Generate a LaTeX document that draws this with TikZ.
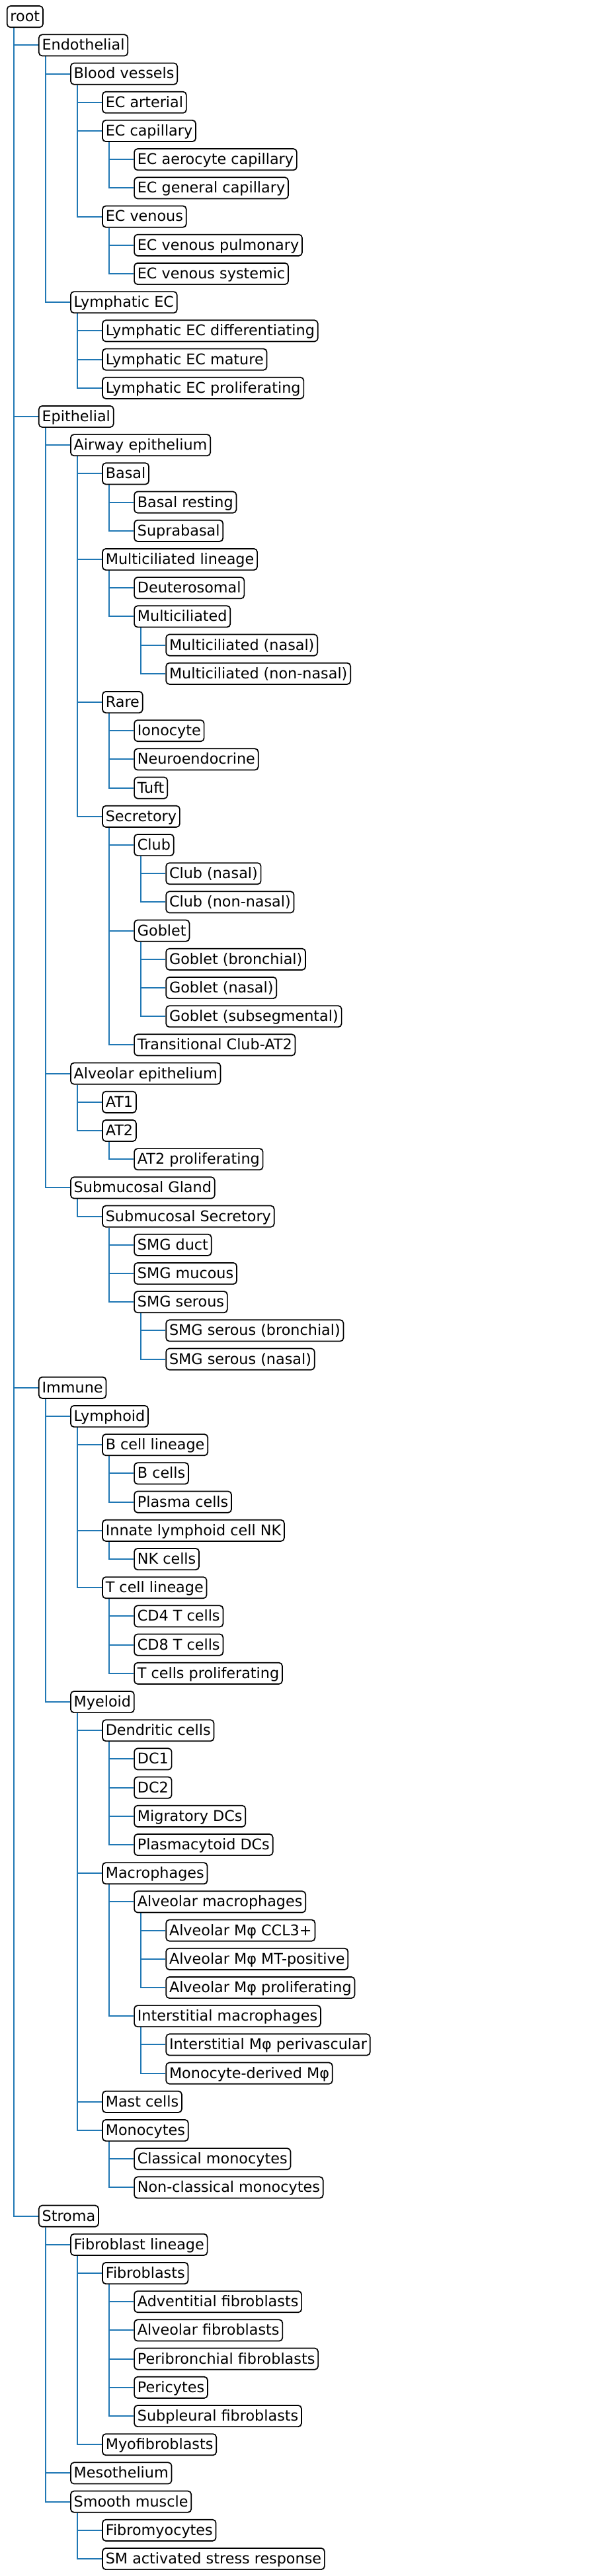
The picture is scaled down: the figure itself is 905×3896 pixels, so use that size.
\documentclass[tikz,border=0pt]{standalone}
\usepackage{fontspec}
\setmainfont{DejaVu Sans}
\usetikzlibrary{backgrounds}
\definecolor{tabblue}{HTML}{1F77B4}
\tikzset{
  cell/.style={draw=black, line width=1.7pt, rounded corners=5pt, fill=white, anchor=west,
    inner xsep=4.8pt, inner ysep=0pt, minimum height=32.2pt, text height=20.1pt, text depth=5.3pt,
    font=\fontsize{22.3}{26}\selectfont},
  conn/.style={draw=tabblue, line width=2pt}
}
\newcommand\tnode[4]{\node[cell] (#1) at ({9.85+48.1*#2},{-25.2-43.2*#3}) {#4};}
\newcommand\tlink[2]{\draw[conn] ([xshift=11.1pt]#1.south west) |- (#2.west);}
\begin{document}
\begin{tikzpicture}[x=1pt,y=1pt]
\useasboundingbox (0,0) rectangle (905,-3896);
\tnode{root}{0}{0}{root}
\tnode{endo}{1}{1}{Endothelial}
\tnode{blood}{2}{2}{Blood vessels}
\tnode{ecart}{3}{3}{EC arterial}
\tnode{eccap}{3}{4}{EC capillary}
\tnode{ecaero}{4}{5}{EC aerocyte capillary}
\tnode{ecgen}{4}{6}{EC general capillary}
\tnode{ecven}{3}{7}{EC venous}
\tnode{ecvpul}{4}{8}{EC venous pulmonary}
\tnode{ecvsys}{4}{9}{EC venous systemic}
\tnode{lymec}{2}{10}{Lymphatic EC}
\tnode{lymdiff}{3}{11}{Lymphatic EC differentiating}
\tnode{lymmat}{3}{12}{Lymphatic EC mature}
\tnode{lymprol}{3}{13}{Lymphatic EC proliferating}
\tnode{epi}{1}{14}{Epithelial}
\tnode{airway}{2}{15}{Airway epithelium}
\tnode{basal}{3}{16}{Basal}
\tnode{basalrest}{4}{17}{Basal resting}
\tnode{suprabasal}{4}{18}{Suprabasal}
\tnode{mcl}{3}{19}{Multiciliated lineage}
\tnode{deut}{4}{20}{Deuterosomal}
\tnode{mc}{4}{21}{Multiciliated}
\tnode{mcnasal}{5}{22}{Multiciliated (nasal)}
\tnode{mcnonnasal}{5}{23}{Multiciliated (non-nasal)}
\tnode{rare}{3}{24}{Rare}
\tnode{iono}{4}{25}{Ionocyte}
\tnode{neuro}{4}{26}{Neuroendocrine}
\tnode{tuft}{4}{27}{Tuft}
\tnode{secr}{3}{28}{Secretory}
\tnode{club}{4}{29}{Club}
\tnode{clubnasal}{5}{30}{Club (nasal)}
\tnode{clubnonnasal}{5}{31}{Club (non-nasal)}
\tnode{goblet}{4}{32}{Goblet}
\tnode{gobbron}{5}{33}{Goblet (bronchial)}
\tnode{gobnasal}{5}{34}{Goblet (nasal)}
\tnode{gobsub}{5}{35}{Goblet (subsegmental)}
\tnode{transclub}{4}{36}{Transitional Club-AT2}
\tnode{alvepi}{2}{37}{Alveolar epithelium}
\tnode{atone}{3}{38}{AT1}
\tnode{attwo}{3}{39}{AT2}
\tnode{attwoprol}{4}{40}{AT2 proliferating}
\tnode{smg}{2}{41}{Submucosal Gland}
\tnode{smgsecr}{3}{42}{Submucosal Secretory}
\tnode{smgduct}{4}{43}{SMG duct}
\tnode{smgmuc}{4}{44}{SMG mucous}
\tnode{smgser}{4}{45}{SMG serous}
\tnode{smgserbron}{5}{46}{SMG serous (bronchial)}
\tnode{smgsernasal}{5}{47}{SMG serous (nasal)}
\tnode{immune}{1}{48}{Immune}
\tnode{lymphoid}{2}{49}{Lymphoid}
\tnode{bcl}{3}{50}{B cell lineage}
\tnode{bcells}{4}{51}{B cells}
\tnode{plasma}{4}{52}{Plasma cells}
\tnode{ilc}{3}{53}{Innate lymphoid cell NK}
\tnode{nk}{4}{54}{NK cells}
\tnode{tcl}{3}{55}{T cell lineage}
\tnode{cdfour}{4}{56}{CD4 T cells}
\tnode{cdeight}{4}{57}{CD8 T cells}
\tnode{tprol}{4}{58}{T cells proliferating}
\tnode{myeloid}{2}{59}{Myeloid}
\tnode{dend}{3}{60}{Dendritic cells}
\tnode{dcone}{4}{61}{DC1}
\tnode{dctwo}{4}{62}{DC2}
\tnode{migdc}{4}{63}{Migratory DCs}
\tnode{pdc}{4}{64}{Plasmacytoid DCs}
\tnode{macro}{3}{65}{Macrophages}
\tnode{alvmac}{4}{66}{Alveolar macrophages}
\tnode{alvccl}{5}{67}{Alveolar Mφ CCL3+}
\tnode{alvmt}{5}{68}{Alveolar Mφ MT-positive}
\tnode{alvprol}{5}{69}{Alveolar Mφ proliferating}
\tnode{intmac}{4}{70}{Interstitial macrophages}
\tnode{intperi}{5}{71}{Interstitial Mφ perivascular}
\tnode{monoder}{5}{72}{Monocyte-derived Mφ}
\tnode{mast}{3}{73}{Mast cells}
\tnode{mono}{3}{74}{Monocytes}
\tnode{classmono}{4}{75}{Classical monocytes}
\tnode{nonclassmono}{4}{76}{Non-classical monocytes}
\tnode{stroma}{1}{77}{Stroma}
\tnode{fibl}{2}{78}{Fibroblast lineage}
\tnode{fib}{3}{79}{Fibroblasts}
\tnode{advfib}{4}{80}{Adventitial fibroblasts}
\tnode{alvfib}{4}{81}{Alveolar fibroblasts}
\tnode{peribfib}{4}{82}{Peribronchial fibroblasts}
\tnode{peri}{4}{83}{Pericytes}
\tnode{subfib}{4}{84}{Subpleural fibroblasts}
\tnode{myofib}{3}{85}{Myofibroblasts}
\tnode{meso}{2}{86}{Mesothelium}
\tnode{smooth}{2}{87}{Smooth muscle}
\tnode{fibromyo}{3}{88}{Fibromyocytes}
\tnode{smact}{3}{89}{SM activated stress response}
\begin{scope}[on background layer]
\tlink{root}{endo}\tlink{root}{epi}\tlink{root}{immune}\tlink{root}{stroma}
\tlink{endo}{blood}\tlink{endo}{lymec}
\tlink{blood}{ecart}\tlink{blood}{eccap}\tlink{blood}{ecven}
\tlink{eccap}{ecaero}\tlink{eccap}{ecgen}
\tlink{ecven}{ecvpul}\tlink{ecven}{ecvsys}
\tlink{lymec}{lymdiff}\tlink{lymec}{lymmat}\tlink{lymec}{lymprol}
\tlink{epi}{airway}\tlink{epi}{alvepi}\tlink{epi}{smg}
\tlink{airway}{basal}\tlink{airway}{mcl}\tlink{airway}{rare}\tlink{airway}{secr}
\tlink{basal}{basalrest}\tlink{basal}{suprabasal}
\tlink{mcl}{deut}\tlink{mcl}{mc}
\tlink{mc}{mcnasal}\tlink{mc}{mcnonnasal}
\tlink{rare}{iono}\tlink{rare}{neuro}\tlink{rare}{tuft}
\tlink{secr}{club}\tlink{secr}{goblet}\tlink{secr}{transclub}
\tlink{club}{clubnasal}\tlink{club}{clubnonnasal}
\tlink{goblet}{gobbron}\tlink{goblet}{gobnasal}\tlink{goblet}{gobsub}
\tlink{alvepi}{atone}\tlink{alvepi}{attwo}
\tlink{attwo}{attwoprol}
\tlink{smg}{smgsecr}
\tlink{smgsecr}{smgduct}\tlink{smgsecr}{smgmuc}\tlink{smgsecr}{smgser}
\tlink{smgser}{smgserbron}\tlink{smgser}{smgsernasal}
\tlink{immune}{lymphoid}\tlink{immune}{myeloid}
\tlink{lymphoid}{bcl}\tlink{lymphoid}{ilc}\tlink{lymphoid}{tcl}
\tlink{bcl}{bcells}\tlink{bcl}{plasma}
\tlink{ilc}{nk}
\tlink{tcl}{cdfour}\tlink{tcl}{cdeight}\tlink{tcl}{tprol}
\tlink{myeloid}{dend}\tlink{myeloid}{macro}\tlink{myeloid}{mast}\tlink{myeloid}{mono}
\tlink{dend}{dcone}\tlink{dend}{dctwo}\tlink{dend}{migdc}\tlink{dend}{pdc}
\tlink{macro}{alvmac}\tlink{macro}{intmac}
\tlink{alvmac}{alvccl}\tlink{alvmac}{alvmt}\tlink{alvmac}{alvprol}
\tlink{intmac}{intperi}\tlink{intmac}{monoder}
\tlink{mono}{classmono}\tlink{mono}{nonclassmono}
\tlink{stroma}{fibl}\tlink{stroma}{meso}\tlink{stroma}{smooth}
\tlink{fibl}{fib}\tlink{fibl}{myofib}
\tlink{fib}{advfib}\tlink{fib}{alvfib}\tlink{fib}{peribfib}\tlink{fib}{peri}\tlink{fib}{subfib}
\tlink{smooth}{fibromyo}\tlink{smooth}{smact}
\end{scope}
\end{tikzpicture}
\end{document}
